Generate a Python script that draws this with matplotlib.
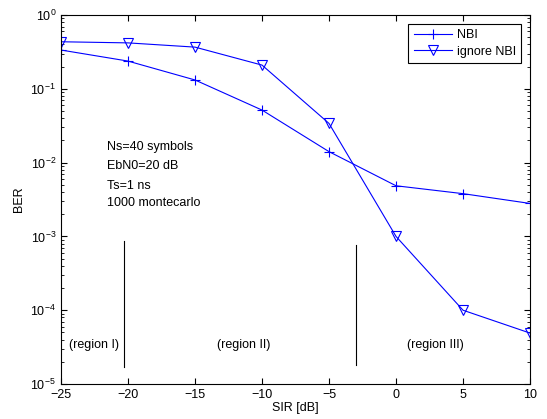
import numpy as np
import matplotlib
matplotlib.use('Agg')
import matplotlib.pyplot as plt

plt.rcParams['font.family'] = ['Liberation Sans', 'DejaVu Sans']
plt.rcParams['font.size'] = 9

# data
sir = [-25, -20, -15, -10, -5, 0, 5, 10]
ber_nbi = [0.336, 0.238, 0.132, 0.0516, 0.0141, 0.00486, 0.0038, 0.0028]
ber_ignore = [0.435, 0.42, 0.368, 0.21, 0.034, 0.001, 1.0e-4, 4.9e-5]

fig = plt.figure(figsize=(5.47, 4.19), dpi=100)
ax = fig.add_axes([0.1115, 0.0835, 0.8575, 0.8805])

ax.semilogy(sir, ber_nbi, color='blue', lw=0.8, marker='+', ms=7, mew=0.8, label='NBI')
ax.semilogy(sir, ber_ignore, color='blue', lw=0.8, marker='v', ms=6.5, mew=0.8,
            mfc='none', label='ignore NBI')

# region separators
ax.plot([-20.3, -20.3], [1.7e-5, 8.8e-4], color='k', lw=0.8)
ax.plot([-2.96, -2.96], [1.8e-5, 7.6e-4], color='k', lw=0.8)

ax.text(-21.6, 0.0163, 'Ns=40 symbols', va='center')
ax.text(-21.6, 0.0090, 'EbN0=20 dB', va='center')
ax.text(-21.6, 0.0049, 'Ts=1 ns', va='center')
ax.text(-21.6, 0.0028, '1000 montecarlo', va='center')

ax.text(-22.5, 3.4e-5, '(region I)', ha='center', va='center')
ax.text(-11.4, 3.4e-5, '(region II)', ha='center', va='center')
ax.text(2.9, 3.4e-5, '(region III)', ha='center', va='center')

ax.set_xlim(-25, 10)
ax.set_ylim(1e-5, 1)
ax.set_xticks([-25, -20, -15, -10, -5, 0, 5, 10])
ax.set_xticklabels(['\u221225', '\u221220', '\u221215', '\u221210', '\u22125', '0', '5', '10'])
ax.set_xlabel('SIR [dB]', labelpad=1)
ax.set_ylabel('BER', labelpad=4)
ax.tick_params(which='both', direction='in', top=True, right=True)
ax.tick_params(which='major', length=4)
ax.tick_params(which='minor', length=2)

leg = ax.legend(loc='upper right', fancybox=False, edgecolor='k', framealpha=1,
                handlelength=3.0, handletextpad=0.4, borderaxespad=0.7,
                borderpad=0.45, labelspacing=0.35)
leg.get_frame().set_linewidth(0.8)

fig.savefig('out.png', dpi=100)
